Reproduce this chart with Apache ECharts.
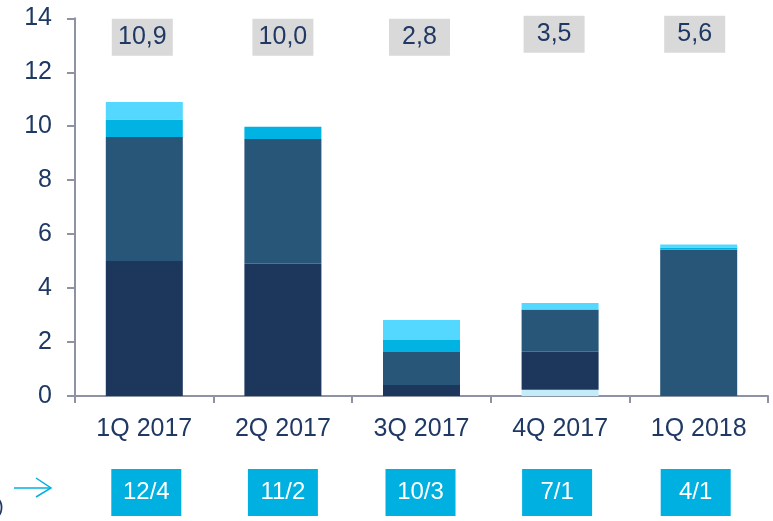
<!DOCTYPE html>
<html>
<head>
<meta charset="utf-8">
<script src="https://cdn.jsdelivr.net/npm/echarts@6/dist/echarts.min.js"></script>
<style>
html,body{margin:0;padding:0;background:#fff;}
#c{width:773px;height:521px;}
</style>
</head>
<body>
<div id="c"></div>
<script>
// ---- data ----
const categories = ['1Q 2017', '2Q 2017', '3Q 2017', '4Q 2017', '1Q 2018'];
const seriesVeryLight = [0, 0, 0, 0.23, 0];
const seriesDark = [5.0, 4.9, 0.41, 1.41, 0];
const seriesMid = [4.6, 4.63, 1.22, 1.57, 5.42];
const seriesCyan = [0.65, 0.45, 0.45, 0, 0.08];
const seriesLight = [0.65, 0, 0.74, 0.24, 0.12];
const totalLabels = ['10,9', '10,0', '2,8', '3,5', '5,6'];
const ratioLabels = ['12/4', '11/2', '10/3', '7/1', '4/1'];
const yTicks = [0, 2, 4, 6, 8, 10, 12, 14];

// ---- style ----
const NAVY = '#1f3864';
const AXIS = '#8e93a3';
const FONT = 'Arial, "Liberation Sans", sans-serif';
const ANNOT_Y = 13.3;
const ANNOT_OFFSETS = [[-2, 0], [0, 0], [-2, 0], [-6, -3], [-4, -3]];
const RATIO_OFFSETS = [[2, 0], [0, 0], [-1, 0], [-3, 0], [-3, 0]];

const chart = echarts.init(document.getElementById('c'));

function barSeries(name, data, color) {
  return {
    name: name, type: 'bar', stack: 'total', data: data,
    barWidth: 77, xAxisIndex: 0, yAxisIndex: 0,
    itemStyle: { color: color },
    emphasis: { disabled: true },
    silent: true
  };
}

chart.setOption({
  animation: false,
  backgroundColor: '#ffffff',
  textStyle: { fontFamily: FONT },
  grid: [
    { left: 75, right: 5, top: 18.3, bottom: 125 },
    { left: 75, right: 5, top: 469, height: 47 }
  ],
  xAxis: [
    {
      type: 'category', gridIndex: 0, data: categories,
      axisLine: { lineStyle: { color: AXIS, width: 2 } },
      axisTick: { show: true, length: 7, lineStyle: { color: AXIS, width: 2 } },
      axisLabel: { color: NAVY, fontSize: 25, fontFamily: FONT, margin: 21 }
    },
    {
      type: 'category', gridIndex: 1, data: categories, show: false
    }
  ],
  yAxis: [
    {
      type: 'value', gridIndex: 0, min: 0, max: 14, interval: 2,
      axisLine: { show: true, lineStyle: { color: AXIS, width: 2 } },
      axisTick: { show: true, length: 8, lineStyle: { color: AXIS, width: 2 } },
      splitLine: { show: false },
      axisLabel: {
        color: NAVY, fontSize: 25, fontFamily: FONT, margin: 23,
        formatter: function (v) { return yTicks.indexOf(v) >= 0 ? String(v) : ''; }
      }
    },
    { type: 'value', gridIndex: 1, min: 0, max: 1, show: false }
  ],
  series: [
    barSeries('s0', seriesVeryLight, '#c4ecf8'),
    barSeries('s1', seriesDark, '#1c365c'),
    barSeries('s2', seriesMid, '#285678'),
    barSeries('s3', seriesCyan, '#00b3e3'),
    barSeries('s4', seriesLight, '#55d8ff'),
    {
      type: 'scatter', xAxisIndex: 0, yAxisIndex: 0, silent: true,
      symbol: 'rect', symbolSize: [61, 37],
      itemStyle: { color: '#d9d9d9', opacity: 1 },
      data: totalLabels.map(function (t, i) {
        return { value: [categories[i], ANNOT_Y], name: t, symbolOffset: ANNOT_OFFSETS[i] };
      }),
      label: {
        show: true, position: 'inside', color: NAVY, fontSize: 25, fontFamily: FONT,
        formatter: function (p) { return p.name; }
      },
      z: 5
    },
    {
      type: 'scatter', xAxisIndex: 1, yAxisIndex: 1, silent: true,
      symbol: 'rect', symbolSize: [70, 47],
      itemStyle: { color: '#00b0e0', opacity: 1 },
      data: ratioLabels.map(function (t, i) {
        return { value: [categories[i], 0.5], name: t, symbolOffset: RATIO_OFFSETS[i] };
      }),
      label: {
        show: true, position: 'inside', color: '#ffffff', fontSize: 24, fontFamily: FONT,
        formatter: function (p) { return p.name; }
      }
    }
  ],
  graphic: [
    { type: 'line', shape: { x1: 14, y1: 488, x2: 51, y2: 488 }, style: { stroke: '#00b0e0', lineWidth: 1.5 } },
    { type: 'polyline', shape: { points: [[36, 478], [51, 488], [36, 497]] }, style: { stroke: '#00b0e0', lineWidth: 1.5, fill: null } },
    { type: 'text', left: -3, top: 497, style: { text: ')', fill: NAVY, font: '20px ' + FONT } }
  ]
});
</script>
</body>
</html>
